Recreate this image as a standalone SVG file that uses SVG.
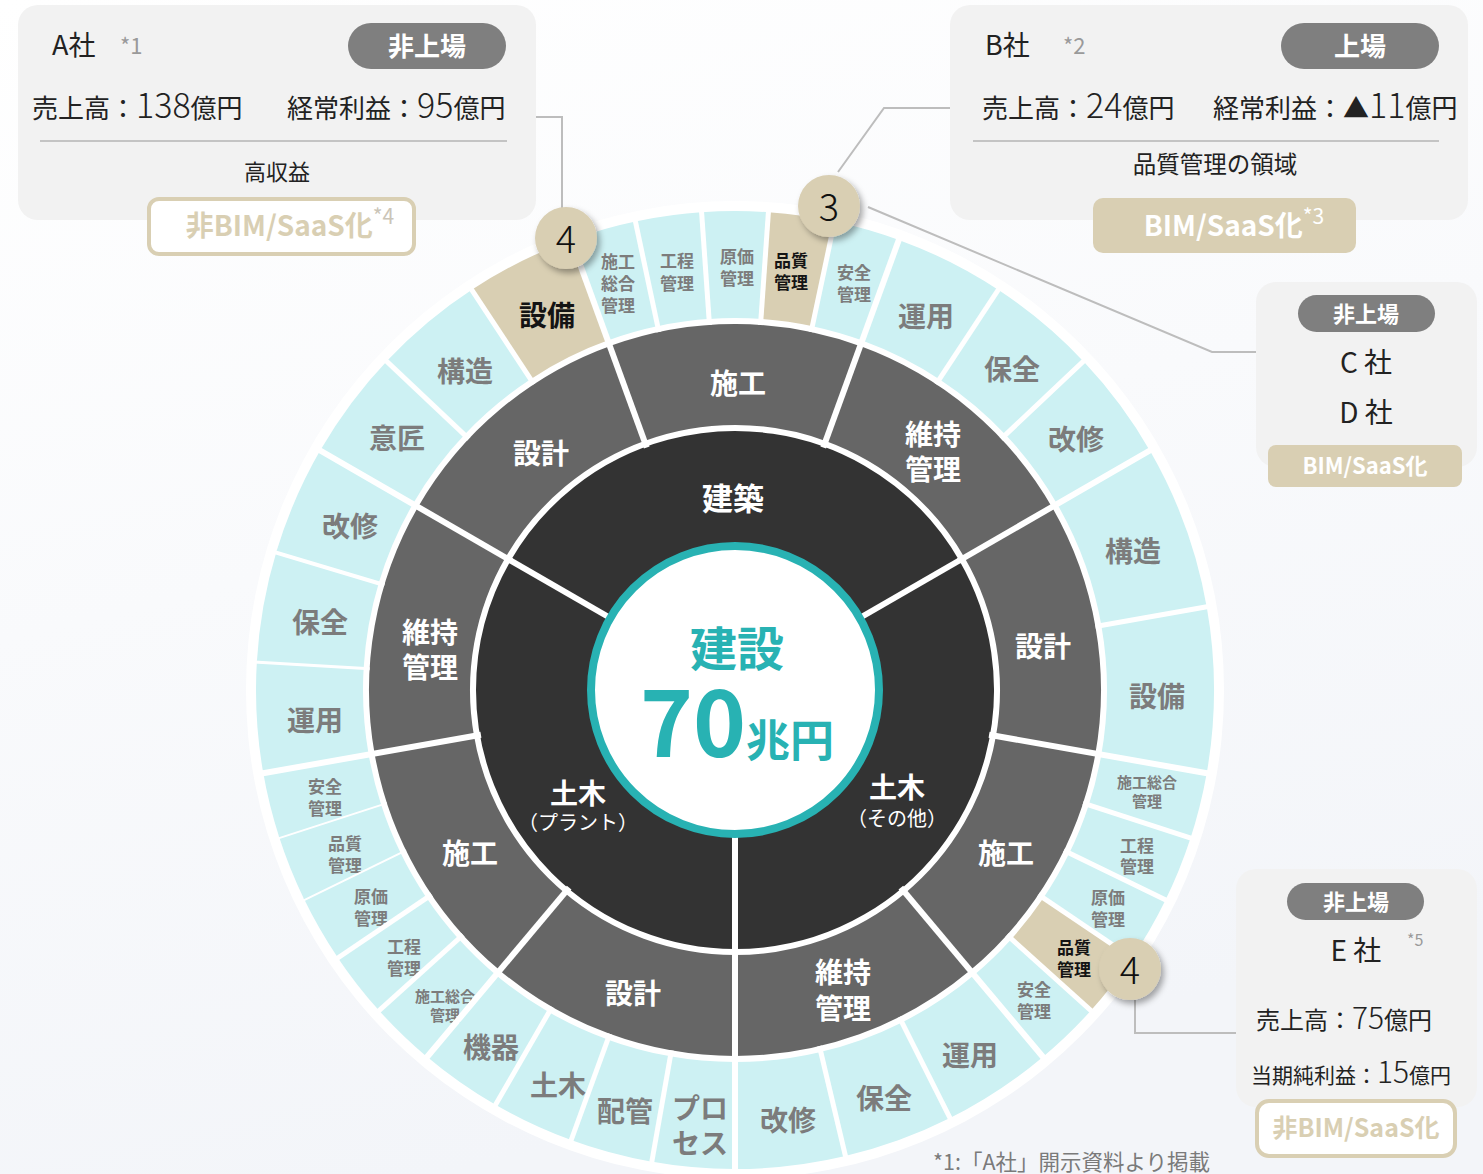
<svg xmlns="http://www.w3.org/2000/svg" width="1483" height="1174" viewBox="0 0 1483 1174">
<defs>
<linearGradient id="bg" x1="0" y1="0" x2="0.3" y2="1">
<stop offset="0" stop-color="#ffffff"/>
<stop offset="1" stop-color="#f3f5f9"/>
</linearGradient>
<filter id="sh" x="-40%" y="-40%" width="180%" height="180%">
<feDropShadow dx="3" dy="4" stdDeviation="3" flood-color="#000" flood-opacity="0.35"/>
</filter>
</defs>
<style>
text{font-family:"Noto Sans CJK JP","Noto Sans",sans-serif;}
.c{text-anchor:middle;dominant-baseline:central;}
.s1{fill:none;stroke:#333333;stroke-width:119;}
.s2{fill:none;stroke:#666666;stroke-width:101;}
.s3{fill:none;stroke:#cdf1f3;stroke-width:107;}
.tan{fill:none;stroke:#d9cfb3;stroke-width:107;}
.t1{font-size:31px;font-weight:700;fill:#fff;}
.t1s{font-size:20px;font-weight:400;fill:#fff;}
.t2{font-size:28px;font-weight:700;fill:#fff;}
.t3{font-size:28px;font-weight:700;fill:#7c7c7c;}
.t3s{font-size:17px;font-weight:700;fill:#7c7c7c;}
.t3x{font-size:15px;font-weight:700;fill:#7c7c7c;}
.dk{fill:#141414;}
.sep line{stroke:#fff;}
.conn polyline{fill:none;stroke:#bdbdbd;stroke-width:2;}
.badge circle{fill:#d9cfb3;filter:url(#sh);}
.badge text{font-size:38px;font-weight:300;fill:#111;}
.box{fill:#f2f2f2;}
.pill{fill:#7f7f7f;}
.pt{font-weight:700;fill:#fff;}
.tx{fill:#222;}
.gr{fill:#9a9a9a;}
.hl{stroke:#c4c4c4;stroke-width:2;}
.ob{fill:#fff;stroke:#d9cfb3;stroke-width:4;}
.fb{fill:#d9cfb3;}
.obt{font-weight:700;fill:#d9cfb3;}
</style>
<rect width="1483" height="1174" fill="url(#bg)"/>
<circle cx="735" cy="690" r="489" fill="#ffffff"/>

<g id="sunburst">
<!-- level 1 -->
<g id="l1-kenchiku"><circle class="s1" r="199.5" pathLength="360" stroke-dasharray="120.3 360" transform="translate(735 690) rotate(-150)"/><text class="c t1" x="733" y="496">建築</text></g>
<g id="l1-doboku-other"><circle class="s1" r="199.5" pathLength="360" stroke-dasharray="120.3 360" transform="translate(735 690) rotate(-30)"/><text class="c t2" x="897" y="786">土木</text><text class="c t1s" x="897" y="817">（その他）</text></g>
<g id="l1-doboku-plant"><circle class="s1" r="199.5" pathLength="360" stroke-dasharray="120.3 360" transform="translate(735 690) rotate(90)"/><text class="c t2" x="578" y="792">土木</text><text class="c t1s" x="578" y="821">（プラント）</text></g>

<!-- level 2 -->
<g id="l2-a-sekkei"><circle class="s2" r="315.5" pathLength="360" stroke-dasharray="40.3 360" transform="translate(735 690) rotate(-150)"/><text class="c t2" x="541" y="452">設計</text></g>
<g id="l2-a-seko"><circle class="s2" r="315.5" pathLength="360" stroke-dasharray="40.3 360" transform="translate(735 690) rotate(-110)"/><text class="c t2" x="738" y="382">施工</text></g>
<g id="l2-a-iji"><circle class="s2" r="315.5" pathLength="360" stroke-dasharray="40.3 360" transform="translate(735 690) rotate(-70)"/><text class="c t2" x="933" y="433">維持</text><text class="c t2" x="933" y="468">管理</text></g>
<g id="l2-b-sekkei"><circle class="s2" r="315.5" pathLength="360" stroke-dasharray="40.3 360" transform="translate(735 690) rotate(-30)"/><text class="c t2" x="1043" y="645">設計</text></g>
<g id="l2-b-seko"><circle class="s2" r="315.5" pathLength="360" stroke-dasharray="40.3 360" transform="translate(735 690) rotate(10)"/><text class="c t2" x="1006" y="852">施工</text></g>
<g id="l2-b-iji"><circle class="s2" r="315.5" pathLength="360" stroke-dasharray="40.3 360" transform="translate(735 690) rotate(50)"/><text class="c t2" x="843" y="971">維持</text><text class="c t2" x="843" y="1007">管理</text></g>
<g id="l2-c-sekkei"><circle class="s2" r="315.5" pathLength="360" stroke-dasharray="40.3 360" transform="translate(735 690) rotate(90)"/><text class="c t2" x="633" y="992">設計</text></g>
<g id="l2-c-seko"><circle class="s2" r="315.5" pathLength="360" stroke-dasharray="40.3 360" transform="translate(735 690) rotate(130)"/><text class="c t2" x="470" y="852">施工</text></g>
<g id="l2-c-iji"><circle class="s2" r="315.5" pathLength="360" stroke-dasharray="40.3 360" transform="translate(735 690) rotate(170)"/><text class="c t2" x="430" y="631">維持</text><text class="c t2" x="430" y="666">管理</text></g>

<!-- level 3 -->
<g id="l3-01"><circle class="s3" r="425.5" pathLength="360" stroke-dasharray="13.6 360" transform="translate(735 690) rotate(-150)"/><text class="c t3" x="397" y="437">意匠</text></g>
<g id="l3-02"><circle class="s3" r="425.5" pathLength="360" stroke-dasharray="13.6 360" transform="translate(735 690) rotate(-136.667)"/><text class="c t3" x="465" y="370">構造</text></g>
<g id="l3-03"><circle class="tan" r="425.5" pathLength="360" stroke-dasharray="13.6 360" transform="translate(735 690) rotate(-123.333)"/><text class="c t3 dk" x="547" y="314">設備</text></g>
<g id="l3-04"><circle class="s3" r="425.5" pathLength="360" stroke-dasharray="8.3 360" transform="translate(735 690) rotate(-110)"/><text class="c t3s" x="618" y="260">施工</text><text class="c t3s" x="618" y="282">総合</text><text class="c t3s" x="618" y="304">管理</text></g>
<g id="l3-05"><circle class="s3" r="425.5" pathLength="360" stroke-dasharray="8.3 360" transform="translate(735 690) rotate(-102)"/><text class="c t3s" x="677" y="259">工程</text><text class="c t3s" x="677" y="282">管理</text></g>
<g id="l3-06"><circle class="s3" r="425.5" pathLength="360" stroke-dasharray="8.3 360" transform="translate(735 690) rotate(-94)"/><text class="c t3s" x="737" y="255">原価</text><text class="c t3s" x="737" y="277">管理</text></g>
<g id="l3-07"><circle class="tan" r="425.5" pathLength="360" stroke-dasharray="8.3 360" transform="translate(735 690) rotate(-86)"/><text class="c t3s dk" x="791" y="259">品質</text><text class="c t3s dk" x="791" y="281">管理</text></g>
<g id="l3-08"><circle class="s3" r="425.5" pathLength="360" stroke-dasharray="8.3 360" transform="translate(735 690) rotate(-78)"/><text class="c t3s" x="854" y="271">安全</text><text class="c t3s" x="854" y="293">管理</text></g>
<g id="l3-09"><circle class="s3" r="425.5" pathLength="360" stroke-dasharray="13.6 360" transform="translate(735 690) rotate(-70)"/><text class="c t3" x="926" y="315">運用</text></g>
<g id="l3-10"><circle class="s3" r="425.5" pathLength="360" stroke-dasharray="13.6 360" transform="translate(735 690) rotate(-56.667)"/><text class="c t3" x="1012" y="368">保全</text></g>
<g id="l3-11"><circle class="s3" r="425.5" pathLength="360" stroke-dasharray="13.6 360" transform="translate(735 690) rotate(-43.333)"/><text class="c t3" x="1076" y="438">改修</text></g>
<g id="l3-12"><circle class="s3" r="425.5" pathLength="360" stroke-dasharray="20.3 360" transform="translate(735 690) rotate(-30)"/><text class="c t3" x="1133" y="550">構造</text></g>
<g id="l3-13"><circle class="s3" r="425.5" pathLength="360" stroke-dasharray="20.3 360" transform="translate(735 690) rotate(-10)"/><text class="c t3" x="1157" y="695">設備</text></g>
<g id="l3-14"><circle class="s3" r="425.5" pathLength="360" stroke-dasharray="8.3 360" transform="translate(735 690) rotate(10)"/><text class="c t3x" x="1147" y="781">施工総合</text><text class="c t3x" x="1147" y="800">管理</text></g>
<g id="l3-15"><circle class="s3" r="425.5" pathLength="360" stroke-dasharray="8.3 360" transform="translate(735 690) rotate(18)"/><text class="c t3s" x="1137" y="844">工程</text><text class="c t3s" x="1137" y="865">管理</text></g>
<g id="l3-16"><circle class="s3" r="425.5" pathLength="360" stroke-dasharray="8.3 360" transform="translate(735 690) rotate(26)"/><text class="c t3s" x="1108" y="896">原価</text><text class="c t3s" x="1108" y="918">管理</text></g>
<g id="l3-17"><circle class="tan" r="425.5" pathLength="360" stroke-dasharray="8.3 360" transform="translate(735 690) rotate(34)"/><text class="c t3s dk" x="1074" y="946">品質</text><text class="c t3s dk" x="1074" y="968">管理</text></g>
<g id="l3-18"><circle class="s3" r="425.5" pathLength="360" stroke-dasharray="8.3 360" transform="translate(735 690) rotate(42)"/><text class="c t3s" x="1034" y="988">安全</text><text class="c t3s" x="1034" y="1010">管理</text></g>
<g id="l3-19"><circle class="s3" r="425.5" pathLength="360" stroke-dasharray="13.6 360" transform="translate(735 690) rotate(50)"/><text class="c t3" x="970" y="1054">運用</text></g>
<g id="l3-20"><circle class="s3" r="425.5" pathLength="360" stroke-dasharray="13.6 360" transform="translate(735 690) rotate(63.333)"/><text class="c t3" x="884" y="1097">保全</text></g>
<g id="l3-21"><circle class="s3" r="425.5" pathLength="360" stroke-dasharray="13.6 360" transform="translate(735 690) rotate(76.667)"/><text class="c t3" x="788" y="1119">改修</text></g>
<g id="l3-22"><circle class="s3" r="425.5" pathLength="360" stroke-dasharray="10.3 360" transform="translate(735 690) rotate(90)"/><text class="c t3" x="700" y="1107">プロ</text><text class="c t3" x="700" y="1142">セス</text></g>
<g id="l3-23"><circle class="s3" r="425.5" pathLength="360" stroke-dasharray="10.3 360" transform="translate(735 690) rotate(100)"/><text class="c t3" x="625" y="1110">配管</text></g>
<g id="l3-24"><circle class="s3" r="425.5" pathLength="360" stroke-dasharray="10.3 360" transform="translate(735 690) rotate(110)"/><text class="c t3" x="558" y="1084">土木</text></g>
<g id="l3-25"><circle class="s3" r="425.5" pathLength="360" stroke-dasharray="10.3 360" transform="translate(735 690) rotate(120)"/><text class="c t3" x="491" y="1046">機器</text></g>
<g id="l3-26"><circle class="s3" r="425.5" pathLength="360" stroke-dasharray="8.3 360" transform="translate(735 690) rotate(130)"/><text class="c t3x" x="445" y="995">施工総合</text><text class="c t3x" x="445" y="1014">管理</text></g>
<g id="l3-27"><circle class="s3" r="425.5" pathLength="360" stroke-dasharray="8.3 360" transform="translate(735 690) rotate(138)"/><text class="c t3s" x="404" y="945">工程</text><text class="c t3s" x="404" y="967">管理</text></g>
<g id="l3-28"><circle class="s3" r="425.5" pathLength="360" stroke-dasharray="8.3 360" transform="translate(735 690) rotate(146)"/><text class="c t3s" x="371" y="895">原価</text><text class="c t3s" x="371" y="917">管理</text></g>
<g id="l3-29"><circle class="s3" r="425.5" pathLength="360" stroke-dasharray="8.3 360" transform="translate(735 690) rotate(154)"/><text class="c t3s" x="345" y="842">品質</text><text class="c t3s" x="345" y="864">管理</text></g>
<g id="l3-30"><circle class="s3" r="425.5" pathLength="360" stroke-dasharray="8.3 360" transform="translate(735 690) rotate(162)"/><text class="c t3s" x="325" y="785">安全</text><text class="c t3s" x="325" y="807">管理</text></g>
<g id="l3-31"><circle class="s3" r="425.5" pathLength="360" stroke-dasharray="13.6 360" transform="translate(735 690) rotate(170)"/><text class="c t3" x="315" y="719">運用</text></g>
<g id="l3-32"><circle class="s3" r="425.5" pathLength="360" stroke-dasharray="13.6 360" transform="translate(735 690) rotate(183.333)"/><text class="c t3" x="320" y="621">保全</text></g>
<g id="l3-33"><circle class="s3" r="425.5" pathLength="360" stroke-dasharray="13.6 360" transform="translate(735 690) rotate(196.667)"/><text class="c t3" x="350" y="525">改修</text></g>
</g>

<g id="separators" class="sep" transform="translate(735 690)">
<g stroke-width="6">
<line y1="-140" y2="-263" transform="rotate(-60)"/>
<line y1="-140" y2="-263" transform="rotate(60)"/>
<line y1="-140" y2="-263" transform="rotate(180)"/>
</g>
<g stroke-width="6">
<line y1="-258" y2="-485" transform="rotate(-60)"/>
<line y1="-258" y2="-485" transform="rotate(-20)"/>
<line y1="-258" y2="-485" transform="rotate(20)"/>
<line y1="-258" y2="-485" transform="rotate(60)"/>
<line y1="-258" y2="-485" transform="rotate(100)"/>
<line y1="-258" y2="-485" transform="rotate(140)"/>
<line y1="-258" y2="-485" transform="rotate(180)"/>
<line y1="-258" y2="-485" transform="rotate(220)"/>
<line y1="-258" y2="-485" transform="rotate(260)"/>
</g>
<g stroke-width="5">
<line y1="-366" y2="-485" transform="rotate(-46.667)"/>
<line y1="-366" y2="-485" transform="rotate(-33.333)"/>
<line y1="-366" y2="-485" transform="rotate(-12)"/>
<line y1="-366" y2="-485" transform="rotate(-4)"/>
<line y1="-366" y2="-485" transform="rotate(4)"/>
<line y1="-366" y2="-485" transform="rotate(12)"/>
<line y1="-366" y2="-485" transform="rotate(33.333)"/>
<line y1="-366" y2="-485" transform="rotate(46.667)"/>
<line y1="-366" y2="-485" transform="rotate(80)"/>
<line y1="-366" y2="-485" transform="rotate(108)"/>
<line y1="-366" y2="-485" transform="rotate(116)"/>
<line y1="-366" y2="-485" transform="rotate(124)"/>
<line y1="-366" y2="-485" transform="rotate(132)"/>
<line y1="-366" y2="-485" transform="rotate(153.333)"/>
<line y1="-366" y2="-485" transform="rotate(166.667)"/>
<line y1="-366" y2="-485" transform="rotate(190)"/>
<line y1="-366" y2="-485" transform="rotate(200)"/>
<line y1="-366" y2="-485" transform="rotate(210)"/>
<line y1="-366" y2="-485" transform="rotate(228)"/>
<line y1="-366" y2="-485" transform="rotate(236)"/>
<line y1="-366" y2="-485" transform="rotate(244)" stroke-width="2"/>
<line y1="-366" y2="-485" transform="rotate(252)" stroke-width="2"/>
<line y1="-366" y2="-485" transform="rotate(273.333)" stroke-width="3"/>
<line y1="-366" y2="-485" transform="rotate(286.667)" stroke-width="4"/>
</g>
</g>

<g id="center">
<circle cx="735" cy="690" r="144" fill="#fff" stroke="#28b2b3" stroke-width="8"/>
<text class="c" x="737" y="645" font-size="47" font-weight="700" fill="#28b2b3">建設</text>
<text x="737" y="757" text-anchor="middle" font-weight="700" fill="#28b2b3"><tspan font-size="90">70</tspan><tspan font-size="44">兆円</tspan></text>
</g>

<g id="connectors" class="conn">
<polyline points="536,117 562,117 562,208"/>
<polyline points="838,172 884,108 950,108"/>
<polyline points="868,207 1212,352 1256,352"/>
<polyline points="1135,1000 1135,1033 1236,1033"/>
</g>

<g id="badge-4a" class="badge"><circle cx="566" cy="238" r="31"/><text class="c" x="566" y="236">4</text></g>
<g id="badge-3" class="badge"><circle cx="829" cy="206" r="31"/><text class="c" x="829" y="204">3</text></g>
<g id="badge-4b" class="badge"><circle cx="1130" cy="969" r="31"/><text class="c" x="1130" y="967">4</text></g>

<g id="box-a">
<rect class="box" x="18" y="5" width="518" height="215" rx="20"/>
<text class="tx" x="52" y="55" font-size="27">A社</text>
<text class="gr" x="120" y="54" font-size="22">*1</text>
<rect class="pill" x="348" y="23" width="158" height="46" rx="23"/>
<text class="c pt" x="427" y="44" font-size="26">非上場</text>
<text class="tx" x="32" y="118" font-size="26">売上高：<tspan font-size="34" font-weight="300">138</tspan>億円</text>
<text class="tx" x="287" y="118" font-size="26">経常利益：<tspan font-size="34" font-weight="300">95</tspan>億円</text>
<line class="hl" x1="40" y1="141" x2="507" y2="141"/>
<text class="c tx" x="277" y="170" font-size="22">高収益</text>
<rect class="ob" x="149" y="199" width="265" height="55" rx="10"/>
<text class="c obt" x="290" y="224" font-size="28">非BIM/SaaS化<tspan font-size="21" font-weight="400" fill="#cbc5b8" dy="-9">*4</tspan></text>
</g>

<g id="box-b">
<rect class="box" x="950" y="5" width="518" height="215" rx="20"/>
<text class="tx" x="985" y="55" font-size="27">B社</text>
<text class="gr" x="1063" y="54" font-size="22">*2</text>
<rect class="pill" x="1281" y="23" width="158" height="46" rx="23"/>
<text class="c pt" x="1360" y="44" font-size="26">上場</text>
<text class="tx" x="982" y="118" font-size="26">売上高：<tspan font-size="34" font-weight="300">24</tspan>億円</text>
<text class="tx" x="1213" y="118" font-size="26">経常利益：▲<tspan font-size="34" font-weight="300">11</tspan>億円</text>
<line class="hl" x1="973" y1="141" x2="1439" y2="141"/>
<text class="c tx" x="1215" y="163" font-size="23.5">品質管理の領域</text>
<rect class="fb" x="1093" y="198" width="263" height="55" rx="10"/>
<text class="c pt" x="1234" y="224" font-size="28">BIM/SaaS化<tspan font-size="21" font-weight="400" dy="-9">*3</tspan></text>
</g>

<g id="box-c">
<rect class="box" x="1256" y="282" width="221" height="185" rx="20"/>
<rect class="pill" x="1298" y="295" width="137" height="37" rx="18.5"/>
<text class="c pt" x="1366" y="312" font-size="22">非上場</text>
<text class="c tx" x="1366" y="361" font-size="28">C 社</text>
<text class="c tx" x="1366" y="411" font-size="28">D 社</text>
<rect class="fb" x="1268" y="445" width="194" height="42" rx="8"/>
<text class="c pt" x="1365" y="464" font-size="22">BIM/SaaS化</text>
</g>

<g id="box-e">
<rect class="box" x="1236" y="869" width="241" height="238" rx="20"/>
<rect class="pill" x="1287" y="883" width="137" height="37" rx="18.5"/>
<text class="c pt" x="1356" y="900" font-size="22">非上場</text>
<text class="c tx" x="1356" y="949" font-size="28">E 社</text>
<text class="gr" x="1407" y="946" font-size="16">*5</text>
<text class="tx" x="1256" y="1029" font-size="24">売上高：<tspan font-size="30" font-weight="300">75</tspan>億円</text>
<text class="tx" x="1251" y="1083" font-size="21">当期純利益：<tspan font-size="30" font-weight="300">15</tspan>億円</text>
<rect class="ob" x="1257" y="1101" width="198" height="55" rx="12"/>
<text class="c obt" x="1356" y="1126" font-size="25">非BIM/SaaS化</text>
</g>

<text x="933" y="1170" font-size="21.5" fill="#7a7a7a">*1:「A社」開示資料より掲載</text>
</svg>
